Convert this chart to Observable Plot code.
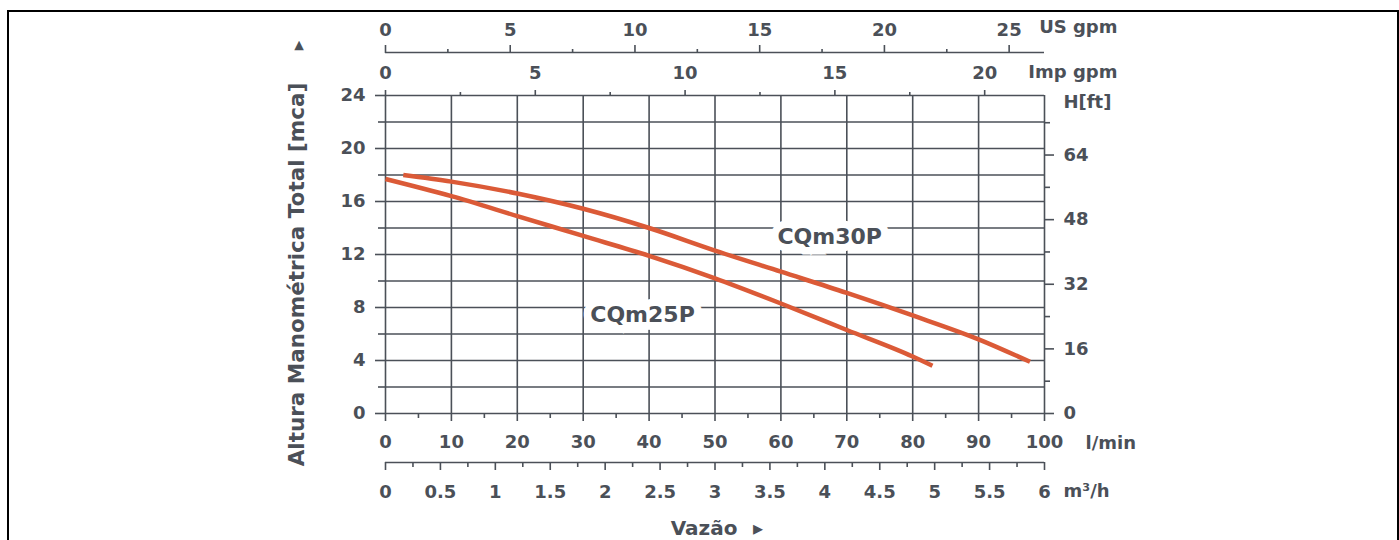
<!DOCTYPE html>
<html><head><meta charset="utf-8">
<script src="https://cdn.jsdelivr.net/npm/d3@7"></script>
<script src="https://cdn.jsdelivr.net/npm/@observablehq/plot@0.6"></script>
<style>
html,body{margin:0;padding:0;background:#fff;}
#wrap{position:relative;width:1399px;height:540px;overflow:hidden;}
#border{position:absolute;left:7px;top:10px;width:1388px;height:600px;border-left:2px solid #000;border-top:2px solid #000;border-right:2px solid #000;pointer-events:none;}
#chart{position:absolute;left:0;top:0;}
</style></head><body>
<div id="wrap"><div id="chart"></div><div id="border"></div></div>
<script>
// ---- data ----
const flow25 = [0, 10, 20, 30, 40, 50, 60, 70, 80, 83];
const head25 = [17.7, 16.4, 14.9, 13.4, 11.9, 10.2, 8.3, 6.3, 4.3, 3.6];
const flow30 = [2.7, 10, 20, 30, 40, 50, 60, 70, 80, 90, 97.8];
const head30 = [18.0, 17.5, 16.6, 15.45, 14.0, 12.3, 10.7, 9.1, 7.4, 5.6, 3.9];
const curveNames = ["CQm25P", "CQm30P"];
const labelX = [39.0, 67.4];
const labelY = [7.4, 13.3];

const lminMajor = [0, 10, 20, 30, 40, 50, 60, 70, 80, 90, 100];
const lminMinor = [5, 15, 25, 35, 45, 55, 65, 75, 85, 95];
const mcaMajor = [0, 4, 8, 12, 16, 20, 24];
const mcaMinor = [2, 6, 10, 14, 18, 22];
const ftMajor = [0, 16, 32, 48, 64];
const ftMinor = [8, 24, 40, 56, 72];
const impMajor = [0, 5, 10, 15, 20];
const impMinor = [2.5, 7.5, 12.5, 17.5];
const usMajor = [0, 5, 10, 15, 20, 25];
const usMinor = [2.5, 7.5, 12.5, 17.5, 22.5];
const m3Major = [0, 0.5, 1, 1.5, 2, 2.5, 3, 3.5, 4, 4.5, 5, 5.5, 6];
const m3Minor = [0.25, 0.75, 1.25, 1.75, 2.25, 2.75, 3.25, 3.75, 4.25, 4.75, 5.25, 5.75];

// unit conversions
const FT = 3.28084;      // ft per m
const IMP = 4.54609;     // l/min per Imp gpm
const US = 3.785411784;  // l/min per US gpm
const M3 = 1000 / 60;    // l/min per m3/h

const C = "#4b5058";
const ORANGE = "#db5a37";
const SW = 1.6;

const series = [
  ...flow25.map((f, i) => ({name: "CQm25P", q: f, h: head25[i]})),
  ...flow30.map((f, i) => ({name: "CQm30P", q: f, h: head30[i]}))
];
const labels = curveNames.map((n, i) => ({name: n, x: labelX[i], y: labelY[i]}));
const fmt = d3.format("~g");
const blank = () => "";
const mid = {lineAnchor: "middle"};

const chart = Plot.plot({
  width: 1399, height: 540,
  marginLeft: 385, marginRight: 355, marginTop: 95, marginBottom: 127,
  x: {domain: [0, 100]},
  y: {domain: [0, 24]},
  style: {fontFamily: "DejaVu Sans", fontWeight: "bold", fontSize: "18px", color: C, background: "transparent", overflow: "visible"},
  marks: [
    // grid
    Plot.ruleX(lminMajor, {stroke: C, strokeWidth: SW}),
    Plot.ruleY(d3.sort([...mcaMajor, ...mcaMinor]), {stroke: C, strokeWidth: SW}),
    // left axis (mca)
    Plot.axisY(mcaMajor, {anchor: "left", tickSize: 10, tickPadding: 10, strokeWidth: SW, label: null}),
    Plot.axisY(mcaMinor, {anchor: "left", tickSize: 7, tickFormat: blank, strokeWidth: SW, label: null}),
    // right axis (ft)
    Plot.axisY(ftMajor.map(f => f / FT), {anchor: "right", tickSize: 9, tickPadding: 10, strokeWidth: SW, tickFormat: d => fmt(Math.round(d * FT)), label: null}),
    Plot.axisY(ftMinor.map(f => f / FT), {anchor: "right", tickSize: 5, strokeWidth: SW, tickFormat: blank, label: null}),
    // bottom axis (l/min)
    Plot.axisX(lminMajor, {anchor: "bottom", tickSize: 8, tickPadding: 14, strokeWidth: SW, label: null}),
    Plot.axisX(lminMinor, {anchor: "bottom", tickSize: 5, strokeWidth: SW, tickFormat: blank, label: null}),
    // second bottom axis (m3/h)
    Plot.ruleY([0], {dy: 49, stroke: C, strokeWidth: SW}),
    Plot.axisX(m3Major.map(v => v * M3), {anchor: "bottom", dy: 49, tickSize: 8, tickPadding: 15, strokeWidth: SW, tickFormat: d => fmt(Math.round(d / M3 * 100) / 100), label: null}),
    Plot.axisX(m3Minor.map(v => v * M3), {anchor: "bottom", dy: 49, tickSize: 5, strokeWidth: SW, tickFormat: blank, label: null}),
    // top axis (Imp gpm)
    Plot.axisX(impMajor.map(v => v * IMP), {anchor: "top", tickSize: 6, tickPadding: 11, strokeWidth: SW, tickFormat: d => fmt(Math.round(d / IMP * 10) / 10), label: null}),
    Plot.axisX(impMinor.map(v => v * IMP), {anchor: "top", tickSize: 4, strokeWidth: SW, tickFormat: blank, label: null}),
    // second top axis (US gpm)
    Plot.ruleY([24], {dy: -43, stroke: C, strokeWidth: SW}),
    Plot.axisX(usMajor.map(v => v * US), {anchor: "top", dy: -43, tickSize: 8, tickPadding: 9, strokeWidth: SW, tickFormat: d => fmt(Math.round(d / US * 10) / 10), label: null}),
    Plot.axisX(usMinor.map(v => v * US), {anchor: "top", dy: -43, tickSize: 4, strokeWidth: SW, tickFormat: blank, label: null}),
    // curve labels with white halo
    Plot.text(labels, {x: "x", y: "y", text: "name", fontSize: 22, fill: C, stroke: "white", strokeWidth: 15, strokeLinejoin: "miter"}),
    // curves
    Plot.line(series, {x: "q", y: "h", z: "name", stroke: ORANGE, strokeWidth: 4.5, curve: "monotone-x", strokeLinecap: "butt"}),
    // unit labels
    Plot.text(["US gpm"], {...mid, frameAnchor: "top-right", dx: 73, dy: -68, textAnchor: "end"}),
    Plot.text(["Imp gpm"], {...mid, frameAnchor: "top-right", dx: 73, dy: -23, textAnchor: "end"}),
    Plot.text(["H[ft]"], {...mid, frameAnchor: "top-right", dx: 19, dy: 7, textAnchor: "start"}),
    Plot.text(["l/min"], {...mid, frameAnchor: "bottom-right", dx: 41, dy: 30, textAnchor: "start"}),
    Plot.text(["m³/h"], {...mid, frameAnchor: "bottom-right", dx: 19, dy: 78, textAnchor: "start"}),
    // axis titles
    Plot.text(["Altura Manométrica Total [mca]"], {...mid, frameAnchor: "left", textAnchor: "middle", dx: -88, dy: 20, rotate: -90, fontSize: 21.5}),
    Plot.text(["▸"], {...mid, frameAnchor: "top-left", textAnchor: "middle", dx: -88, dy: -50, rotate: -90, fontSize: 19}),
    Plot.text(["Vazão"], {...mid, frameAnchor: "bottom", textAnchor: "middle", dx: -11, dy: 115, fontSize: 20}),
    Plot.text(["▸"], {...mid, frameAnchor: "bottom", textAnchor: "middle", dx: 43, dy: 115, fontSize: 20})
  ]
});
document.getElementById("chart").appendChild(chart);
</script>
</body></html>
